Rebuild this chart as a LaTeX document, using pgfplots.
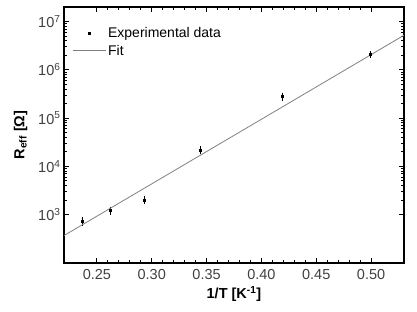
\documentclass[border=0pt]{standalone}
\usepackage{pgfplots}
\pgfplotsset{compat=1.18}
\usepackage{fontspec}
\setmainfont{Liberation Sans}
\pgfplotsset{
  mymarkleg/.style={legend image code/.code={\draw[mark repeat=2,mark phase=2,##1] plot coordinates {(0pt,0pt) (16.5pt,0pt) (33pt,0pt)};}},
  mylineleg/.style={legend image code/.code={\draw[##1] (0pt,0pt) -- (33pt,0pt);}},
}
\begin{document}
\begin{tikzpicture}
\begin{axis}[
  name=ax,
  scale only axis,
  width=340pt, height=256pt,
  xmin=0.22, xmax=0.53,
  ymode=log, ymin=1e2, ymax=2e7,
  xtick={0.25,0.30,0.35,0.40,0.45,0.50},
  xticklabels={0.25,0.30,0.35,0.40,0.45,0.50},
  minor x tick num=4,
  ytick={1e3,1e4,1e5,1e6,1e7},
  yticklabels={10\textsuperscript{3},10\textsuperscript{4},10\textsuperscript{5},10\textsuperscript{6},10\textsuperscript{7}},
  tick align=inside,
  major tick length=5pt, minor tick length=3pt,
  every tick/.style={black, line width=1pt},
  axis line style={line width=1.4pt},
  tick label style={font=\fontsize{14.5}{16}\selectfont, text=black!75},
  xticklabel style={yshift=-3pt},
  xlabel={\textbf{1/T [K\textsuperscript{-1}]}},
  ylabel={\textbf{R\textsubscript{eff} [Ω]}},
  label style={font=\fontsize{14.5}{16}\selectfont},
  ylabel style={yshift=4pt},
  legend style={draw=none, fill=none, at={(0.015,0.935)}, anchor=north west, font=\fontsize{14}{16}\selectfont, row sep=1.5pt},
  legend cell align=left,
  clip=true,
]
\addplot[only marks, mark=square*, mark size=1pt, black, mymarkleg,
  error bars/.cd, y dir=both, y explicit relative, error bar style={black, line width=0.6pt}, error mark options={mark size=1.6pt, line width=0.6pt, black}]
  table[x=x, y=y, y error=e] {
x y e
0.237 730 0.15
0.262 1220 0.12
0.293 2030 0.12
0.344 22000 0.12
0.419 280000 0.12
0.499 2100000 0.08
};
\addlegendentry{Experimental data}
\addplot[gray, line width=0.8pt, mylineleg]
  coordinates {(0.22,370) (0.53,5.2e6)};
\addlegendentry{Fit}
\end{axis}
\pgfresetboundingbox
\path ([shift={(-64pt,-48pt)}]ax.south west) rectangle ([shift={(13pt,7pt)}]ax.north east);
\end{tikzpicture}
\end{document}
